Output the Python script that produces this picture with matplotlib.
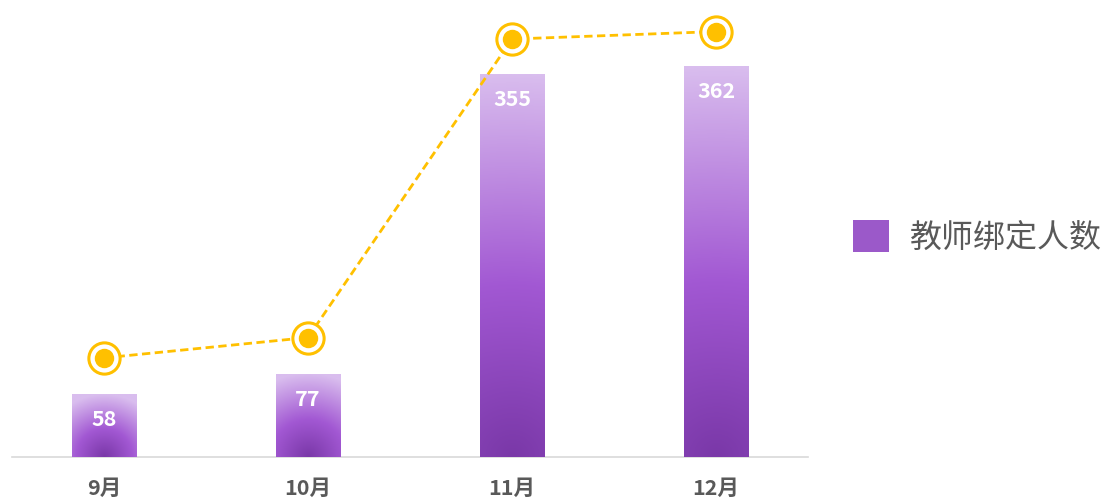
import numpy as np
import matplotlib
matplotlib.use("Agg")
import matplotlib.pyplot as plt
from matplotlib.colors import LinearSegmentedColormap
from matplotlib.patches import Patch

plt.rcParams['font.family'] = ['Noto Sans CJK SC', 'DejaVu Sans']

categories = ['9月', '10月', '11月', '12月']
teachers = [58, 77, 355, 362]
series_name = '教师绑定人数'

W, H, DPI = 1107, 502, 100
fig = plt.figure(figsize=(W / DPI, H / DPI), dpi=DPI)
ax_l, ax_r, ax_b, ax_t = 12, 808, 458, 10
ax = fig.add_axes([ax_l / W, 1 - ax_b / H, (ax_r - ax_l) / W, (ax_b - ax_t) / H])

x = np.arange(len(categories))
bar_w = 0.314
bars = ax.bar(x, teachers, width=bar_w, color='#9b59c9', edgecolor='none', zorder=2,
              label=series_name)
ymax = 415
ax.set_xlim(-0.45, len(categories) - 0.55)
ax.set_ylim(0, ymax)

cmap = LinearSegmentedColormap.from_list(
    'grad', [(0.0, '#7a38a8'), (0.45, '#a258d3'), (1.0, '#d9bdee')])

px_per_unit = (ax_b - ax_t) / ymax
bar_px_w = 64
for rect, v in zip(bars, teachers):
    h_px = v * px_per_unit
    ny = max(int(h_px), 2)
    nx = 64
    yy = np.linspace(0, h_px, ny)[:, None]
    xx = np.linspace(-bar_px_w / 2, bar_px_w / 2, nx)[None, :]
    d = np.clip(np.sqrt(xx ** 2 + yy ** 2) / h_px, 0, 1)
    x0 = rect.get_x()
    im = ax.imshow(d, cmap=cmap, vmin=0, vmax=1, origin='lower', aspect='auto',
                   extent=(x0, x0 + rect.get_width(), 0, v), zorder=3,
                   interpolation='bilinear')
    im.set_clip_path(rect)
    ax.annotate(str(v), (rect.get_x() + rect.get_width() / 2, v),
                xytext=(0, -17.5), textcoords='offset points',
                ha='center', va='center', color='white', fontsize=15.5,
                fontweight='bold', zorder=5)
ax.set_xlim(-0.45, len(categories) - 0.55)
ax.set_ylim(0, ymax)

for s in ['top', 'right', 'left']:
    ax.spines[s].set_visible(False)
ax.spines['bottom'].set_color('#d9d9d9')
ax.spines['bottom'].set_linewidth(1.2)
ax.set_yticks([])
ax.set_xticks(x)
ax.set_xticklabels(categories, fontsize=15.5, fontweight='bold', color='#595959')
ax.tick_params(axis='x', length=0, pad=14)

ax2 = ax.twinx()
ax2.set_ylim(-34.3, 383)
ax2.axis('off')
gold = '#ffc000'
ax2.plot(x, teachers, color=gold, lw=2.0, linestyle=(0, (3.0, 1.6)), zorder=2)
ax2.plot(x, teachers, linestyle='none', marker='o', ms=22.5, mfc='white', mec=gold,
         mew=2.2, zorder=3)
ax2.plot(x, teachers, linestyle='none', marker='o', ms=14, mfc=gold, mec='none', zorder=4)
ax2.set_xlim(-0.45, len(categories) - 0.55)

fig.legend(handles=[Patch(facecolor='#9b59c9', edgecolor='none', label=series_name)],
           loc='center left', bbox_to_anchor=(853 / W, 1 - 238 / H), frameon=False,
           fontsize=23, handlelength=1.13, handleheight=1.13, handletextpad=0.65,
           borderpad=0, borderaxespad=0, labelcolor='#595959')

fig.savefig('out.png', dpi=DPI)
